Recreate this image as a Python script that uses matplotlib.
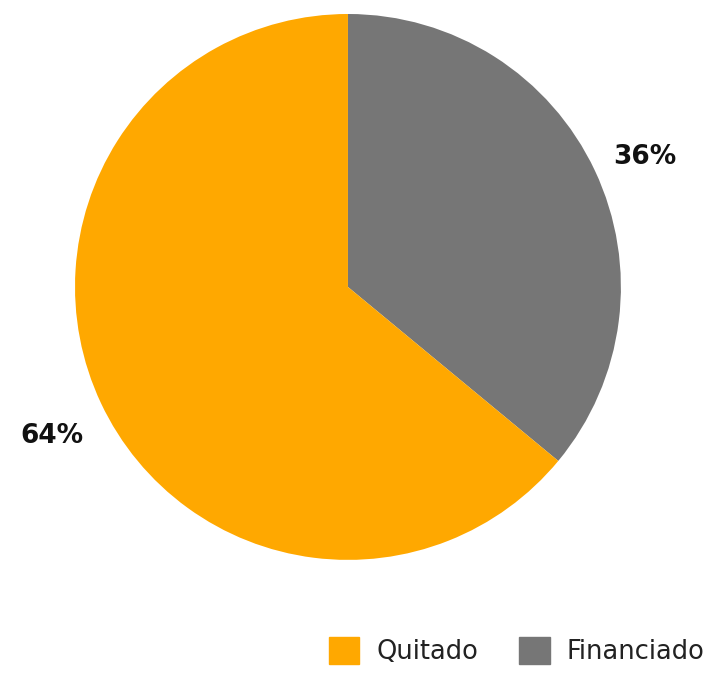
import matplotlib
matplotlib.use('Agg')
import matplotlib.pyplot as plt
from matplotlib.patches import Patch

# ── Data ─────────────────────────────────────────────
labels = ['Financiado', 'Quitado']
values = [36, 64]
colors = ['#767676', '#FFA800']
legend_order = ['Quitado', 'Financiado']

plt.rcParams['font.family'] = ['DejaVu Sans']

fig = plt.figure(figsize=(7.24, 6.75), dpi=100)
ax = fig.add_axes([0.1036, 0.1704, 0.754, 0.809])

wedges, texts, autotexts = ax.pie(
    values, colors=colors, startangle=90, counterclock=False,
    autopct=lambda p: f'{p:.0f}%', pctdistance=1.2,
    textprops=dict(fontsize=19, fontweight='bold', color='#111111'))
# nudge the percentage labels down a touch
for t in autotexts:
    x, y = t.get_position()
    t.set_position((x, y - 0.035))
ax.set_aspect('equal')
ax.set_xlim(-1, 1)
ax.set_ylim(-1, 1)

handles = [Patch(color=colors[labels.index(n)]) for n in legend_order]
fig.legend(handles, legend_order, loc='lower right', ncol=2, frameon=False,
           bbox_to_anchor=(1.005, -0.02), fontsize=18.5, handlelength=1.2,
           handleheight=1.25, columnspacing=1.6, handletextpad=0.65,
           labelcolor='#222222')

plt.savefig('out.png', dpi=100)
